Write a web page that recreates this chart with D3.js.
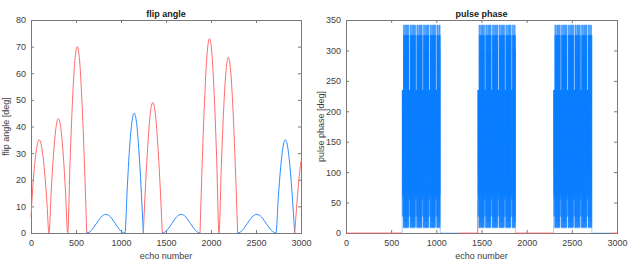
<!DOCTYPE html>
<html>
<head>
<meta charset="utf-8">
<script src="https://cdn.jsdelivr.net/npm/d3@7"></script>
<style>
  body { margin: 0; background: #fff; }
  text { font-family: "Liberation Sans", Arial, sans-serif; font-size: 9px; fill: #404040; }
  .title { font-weight: bold; fill: #1a1a1a; }
</style>
</head>
<body>
<svg id="chart" width="630" height="261"></svg>
<script>
// data vars
const xTicks = [0, 500, 1000, 1500, 2000, 2500, 3000];
const flipTicks = [0, 10, 20, 30, 40, 50, 60, 70, 80];
const phaseTicks = [0, 50, 100, 150, 200, 250, 300, 350];

// flip angle, one run per colour
const runColor = ["red", "blue", "red", "blue", "red", "blue", "red"];
const flipEcho = [
  [0, 25, 50, 75, 92, 120, 150, 175, 200, 226, 252, 278, 304, 330, 356, 382, 408,
   434, 461, 487, 514, 540, 566, 593, 619],
  [619, 646, 672, 699, 725, 752, 778, 805, 831, 858, 885, 911, 938, 964, 991, 1017, 1044,
   1070, 1095, 1121, 1146, 1172, 1197, 1223, 1248],
  [1248, 1274, 1301, 1327, 1354, 1380, 1406, 1433, 1459],
  [1459, 1485, 1511, 1538, 1564, 1590, 1616, 1642, 1669, 1695, 1721, 1747, 1773, 1800, 1826, 1852, 1878],
  [1878, 1904, 1931, 1957, 1984, 2010, 2036, 2063, 2089, 2115, 2141, 2167, 2193, 2218, 2244, 2270, 2296],
  [2296, 2323, 2349, 2376, 2402, 2429, 2456, 2482, 2509, 2536, 2562, 2589, 2615, 2642, 2669, 2695, 2722,
   2748, 2774, 2800, 2826, 2852, 2878, 2904, 2930],
  [2930, 2950, 2975, 3000]
];
const flipDeg = [
  [6, 19.7, 28.6, 34, 35, 32, 23.3, 12.5, 0, 16.5, 30.4, 39.7, 43, 39.7, 30.4, 16.5, 0,
   26.8, 49.5, 64.7, 70, 64.7, 49.5, 26.8, 0],
  [0, 0.3, 1, 2.2, 3.5, 4.8, 6, 6.7, 7, 6.7, 6, 4.8, 3.5, 2.2, 1, 0.3, 0,
   17.2, 31.8, 41.6, 45, 41.6, 31.8, 17.2, 0],
  [0, 18.8, 34.6, 45.3, 49, 45.3, 34.6, 18.8, 0],
  [0, 0.3, 1, 2.2, 3.5, 4.8, 6, 6.7, 7, 6.7, 6, 4.8, 3.5, 2.2, 1, 0.3, 0],
  [0, 27.9, 51.6, 67.5, 73, 67.5, 51.6, 27.9, 0, 25.3, 46.7, 61, 66, 61, 46.7, 25.3, 0],
  [0, 0.3, 1, 2.2, 3.5, 4.8, 6, 6.7, 7, 6.7, 6, 4.8, 3.5, 2.2, 1, 0.3, 0,
   13.4, 24.7, 32.3, 35, 32.3, 24.7, 13.4, 0],
  [0, 9.2, 19.4, 27]
];

// pulse phase: zero, except in the low flip stretches where it keeps
// jumping through this sequence of levels, echo after echo
const phaseLevels = [
  55, 235, 27, 235, 63, 235, 100, 235, 55, 235, 27, 235, 63, 235,
  8, 342, 10, 325, 55, 325, 8, 342, 27, 300, 8, 325, 18, 342, 100, 325, 10, 300, 63, 325,
  8, 325, 10, 342, 27, 325, 8, 325, 55, 342, 10, 325, 18, 300, 8, 342, 63, 325, 10, 325,
  8, 342, 18, 325, 100, 325, 8, 342, 27, 325, 10, 300, 55, 342, 8, 325, 10, 325, 63, 342
];
const phaseBlocks = [[622, 1044], [1459, 1878], [2298, 2722]];

const colors = { red: "#ff6b6b", blue: "#2b8cff", phase: "#0a7cff" };

const svg = d3.select("#chart");

function panel(left, right, yMax, yTicks, titleText, yLabel) {
  const top = 20, bottom = 233;
  const x = d3.scaleLinear().domain([0, 3000]).range([left, right]);
  const y = d3.scaleLinear().domain([0, yMax]).range([bottom, top]);
  const g = svg.append("g");

  const axisStyle = a => a
    .call(a => a.select(".domain").remove())
    .call(a => a.selectAll(".tick line").attr("stroke", "#7a7a7a"))
    .call(a => a.selectAll(".tick text").attr("fill", "#404040").attr("font-size", null).attr("font-family", null));

  g.append("g").attr("transform", `translate(0,${bottom})`)
    .call(d3.axisBottom(x).tickValues(xTicks).tickFormat(d3.format("d"))
      .tickSizeInner(-3).tickSizeOuter(0).tickPadding(7))
    .call(axisStyle);
  g.append("g").attr("transform", `translate(0,${top})`)
    .call(d3.axisTop(x).tickValues(xTicks).tickSizeInner(-3).tickSizeOuter(0).tickFormat(""))
    .call(axisStyle);
  g.append("g").attr("transform", `translate(${left},0)`)
    .call(d3.axisLeft(y).tickValues(yTicks).tickFormat(d3.format("d"))
      .tickSizeInner(-3).tickSizeOuter(0).tickPadding(5))
    .call(axisStyle);
  g.append("g").attr("transform", `translate(${right},0)`)
    .call(d3.axisRight(y).tickValues(yTicks).tickSizeInner(-3).tickSizeOuter(0).tickFormat(""))
    .call(axisStyle);

  g.append("rect")
    .attr("x", left).attr("y", top)
    .attr("width", right - left).attr("height", bottom - top)
    .attr("fill", "none").attr("stroke", "#7a7a7a").attr("stroke-width", 1)
    .attr("shape-rendering", "crispEdges");

  g.append("text").attr("class", "title")
    .attr("x", (left + right) / 2).attr("y", 17)
    .attr("text-anchor", "middle").text(titleText);

  g.append("text")
    .attr("x", (left + right) / 2).attr("y", 259)
    .attr("text-anchor", "middle").text("echo number");

  g.append("text")
    .attr("transform", `translate(${left - 22},${(top + bottom) / 2}) rotate(-90)`)
    .attr("text-anchor", "middle").text(yLabel);

  return { g, x, y };
}

// left: flip angle
const p1 = panel(31, 301, 80, flipTicks, "flip angle", "flip angle [deg]");
const flipLine = d3.line()
  .x(d => p1.x(d[0]))
  .y(d => p1.y(d[1]))
  .curve(d3.curveMonotoneX);

runColor.forEach((c, i) => {
  const pts = flipEcho[i].map((e, j) => [e, flipDeg[i][j]]);
  p1.g.append("path")
    .attr("d", flipLine(pts))
    .attr("fill", "none")
    .attr("stroke", colors[c])
    .attr("stroke-width", 1);
});

// right: pulse phase
const p2 = panel(346, 617, 350, phaseTicks, "pulse phase", "pulse phase [deg]");
const phaseLine = d3.line()
  .x(d => p2.x(d[0]))
  .y(d => p2.y(d[1]));

runColor.forEach((c, i) => {
  const start = flipEcho[i][0];
  const end = flipEcho[i][flipEcho[i].length - 1];
  const pts = [];
  for (let e = start; e <= end; e++) {
    const b = phaseBlocks.find(b => e >= b[0] && e < b[1]);
    pts.push([e, b ? phaseLevels[(e - b[0]) % phaseLevels.length] : 0]);
  }
  p2.g.append("path")
    .attr("d", phaseLine(pts))
    .attr("fill", "none")
    .attr("stroke", c === "blue" ? colors.phase : colors[c])
    .attr("stroke-width", c === "blue" ? 0.35 : 1);
});
</script>
</body>
</html>
